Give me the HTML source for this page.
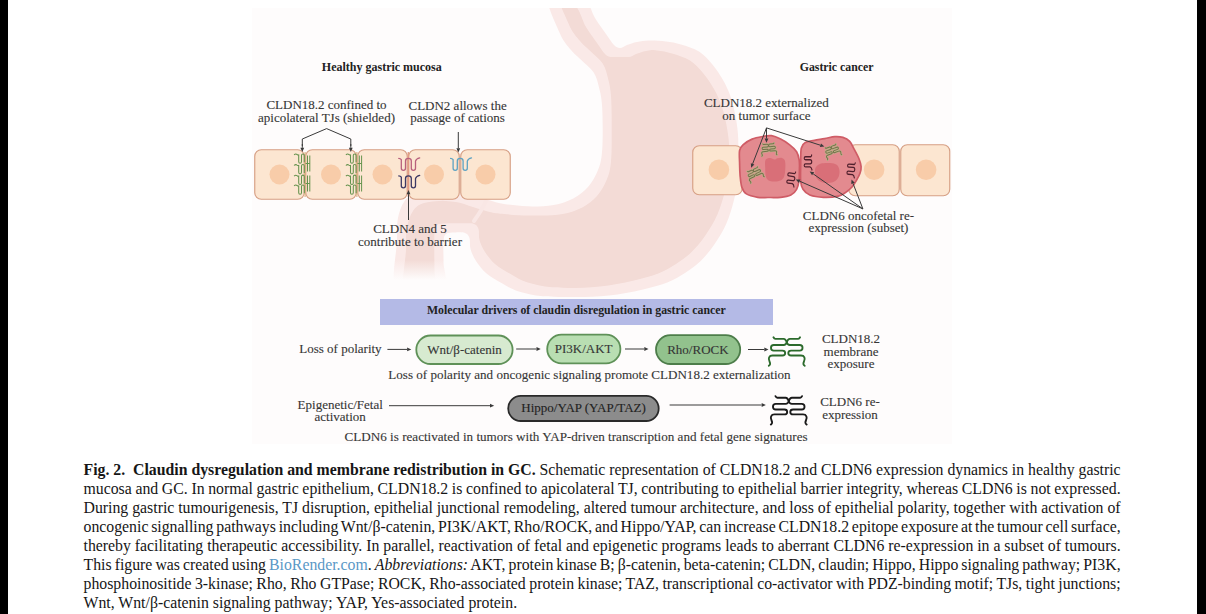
<!DOCTYPE html>
<html><head><meta charset="utf-8">
<style>
html,body{margin:0;padding:0;background:#fff;}
body{width:1206px;height:614px;position:relative;overflow:hidden;font-family:"Liberation Serif", serif;}
.bar{position:absolute;top:0;height:614px;background:#000;}
svg{position:absolute;left:0;top:0;}
svg text{font-family:"Liberation Serif", serif;}
.cl{position:absolute;left:83.5px;font-size:15.8px;line-height:19px;color:#161616;white-space:nowrap;}
.lk{color:#5a98c6;}
</style></head><body>
<div class="bar" style="left:0;width:8px"></div>
<div class="bar" style="left:1197px;width:9px"></div>
<svg width="1206" height="614" viewBox="0 0 1206 614">
<rect x="252" y="8" width="700" height="436" fill="#fefcfc"/>
<defs><filter id="er" x="-5%" y="-5%" width="110%" height="110%"><feMorphology operator="erode" radius="9"/></filter><clipPath id="figclip"><rect x="252" y="8" width="700" height="436"/></clipPath><linearGradient id="fadeg" x1="0" y1="0" x2="0" y2="1"><stop offset="0" stop-color="#fefcfc" stop-opacity="0"/><stop offset="1" stop-color="#fefcfc" stop-opacity="1"/></linearGradient></defs>
<g clip-path="url(#figclip)"><path d="M547.7,-6.0 C551.2,-12.5 573.1,-10.0 581.0,-6.0 C588.9,-2.0 590.8,11.3 595.0,18.0 C599.2,24.7 602.8,29.5 606.0,34.0 C609.2,38.5 611.7,42.7 614.0,45.0 C616.3,47.3 617.8,48.0 620.0,48.0 C622.2,48.0 624.2,46.0 627.0,45.0 C629.8,44.0 633.3,42.7 637.0,42.0 C640.7,41.3 644.2,40.7 649.0,40.6 C653.8,40.5 660.7,40.9 666.0,41.5 C671.3,42.1 675.5,42.8 681.0,44.5 C686.5,46.2 693.8,48.2 699.0,51.5 C704.2,54.8 708.0,59.2 712.0,64.0 C716.0,68.8 720.0,74.8 723.0,80.0 C726.0,85.2 728.2,90.2 730.0,95.0 C731.8,99.8 732.9,104.5 734.0,109.0 C735.1,113.5 735.8,117.7 736.5,122.0 C737.2,126.3 737.7,130.3 738.0,135.0 C738.3,139.7 738.4,143.2 738.5,150.0 C738.6,156.8 739.2,167.7 738.5,176.0 C737.8,184.3 736.0,192.1 734.0,200.0 C732.0,207.9 729.7,215.9 726.4,223.4 C723.1,230.9 718.3,238.7 714.0,245.0 C709.7,251.3 705.2,256.5 700.4,261.2 C695.6,265.9 690.5,269.4 685.0,273.0 C679.5,276.6 674.5,279.7 667.3,282.5 C660.1,285.3 651.7,287.5 642.0,289.7 C632.3,291.9 620.0,294.3 609.0,295.5 C598.0,296.7 587.0,296.9 576.0,297.0 C565.0,297.1 552.7,297.2 543.0,296.3 C533.3,295.4 524.9,293.5 518.0,291.3 C511.1,289.1 506.8,286.1 501.5,283.0 C496.2,279.9 490.2,276.7 486.0,273.0 C481.8,269.3 478.6,265.0 476.0,261.0 C473.4,257.0 471.6,252.8 470.5,249.0 C469.4,245.2 470.4,240.7 469.5,238.0 C468.6,235.3 467.4,233.9 465.0,233.0 C462.6,232.1 458.2,232.3 455.0,232.5 C451.8,232.7 447.9,232.4 446.0,234.0 C444.1,235.6 443.9,237.3 443.5,242.0 C443.1,246.7 443.5,253.0 443.5,262.0 C443.5,271.0 451.2,290.3 443.5,296.0 C435.8,301.7 404.8,305.3 397.0,296.0 C389.2,286.7 396.8,253.0 397.0,240.0 C397.2,227.0 396.8,224.3 398.0,218.0 C399.2,211.7 401.2,206.0 404.0,202.0 C406.8,198.0 409.0,195.8 415.0,194.0 C421.0,192.2 431.7,191.7 440.0,191.5 C448.3,191.3 458.0,191.9 465.0,193.0 C472.0,194.1 476.2,196.3 482.0,198.0 C487.8,199.7 494.8,202.1 500.0,203.3 C505.2,204.5 507.6,204.5 513.0,205.0 C518.4,205.5 525.8,206.5 532.6,206.5 C539.4,206.5 546.9,206.3 553.7,205.0 C560.5,203.7 567.6,201.4 573.3,198.4 C579.0,195.4 583.9,191.6 588.0,187.0 C592.1,182.4 595.4,176.1 597.7,170.7 C600.0,165.3 601.0,161.2 601.8,154.4 C602.6,147.6 602.7,138.2 602.7,130.0 C602.7,121.8 602.5,111.8 602.0,105.0 C601.5,98.2 600.8,94.4 599.4,89.0 C598.0,83.6 596.8,77.5 593.7,72.6 C590.6,67.7 584.5,63.3 580.7,59.5 C576.9,55.7 574.5,54.4 571.0,50.0 C567.5,45.6 563.6,42.3 559.7,33.0 C555.8,23.7 544.2,0.5 547.7,-6.0 Z" fill="#fae9e7"/><path d="M547.7,-6.0 C551.2,-12.5 573.1,-10.0 581.0,-6.0 C588.9,-2.0 590.8,11.3 595.0,18.0 C599.2,24.7 602.8,29.5 606.0,34.0 C609.2,38.5 611.7,42.7 614.0,45.0 C616.3,47.3 617.8,48.0 620.0,48.0 C622.2,48.0 624.2,46.0 627.0,45.0 C629.8,44.0 633.3,42.7 637.0,42.0 C640.7,41.3 644.2,40.7 649.0,40.6 C653.8,40.5 660.7,40.9 666.0,41.5 C671.3,42.1 675.5,42.8 681.0,44.5 C686.5,46.2 693.8,48.2 699.0,51.5 C704.2,54.8 708.0,59.2 712.0,64.0 C716.0,68.8 720.0,74.8 723.0,80.0 C726.0,85.2 728.2,90.2 730.0,95.0 C731.8,99.8 732.9,104.5 734.0,109.0 C735.1,113.5 735.8,117.7 736.5,122.0 C737.2,126.3 737.7,130.3 738.0,135.0 C738.3,139.7 738.4,143.2 738.5,150.0 C738.6,156.8 739.2,167.7 738.5,176.0 C737.8,184.3 736.0,192.1 734.0,200.0 C732.0,207.9 729.7,215.9 726.4,223.4 C723.1,230.9 718.3,238.7 714.0,245.0 C709.7,251.3 705.2,256.5 700.4,261.2 C695.6,265.9 690.5,269.4 685.0,273.0 C679.5,276.6 674.5,279.7 667.3,282.5 C660.1,285.3 651.7,287.5 642.0,289.7 C632.3,291.9 620.0,294.3 609.0,295.5 C598.0,296.7 587.0,296.9 576.0,297.0 C565.0,297.1 552.7,297.2 543.0,296.3 C533.3,295.4 524.9,293.5 518.0,291.3 C511.1,289.1 506.8,286.1 501.5,283.0 C496.2,279.9 490.2,276.7 486.0,273.0 C481.8,269.3 478.6,265.0 476.0,261.0 C473.4,257.0 471.6,252.8 470.5,249.0 C469.4,245.2 470.4,240.7 469.5,238.0 C468.6,235.3 467.4,233.9 465.0,233.0 C462.6,232.1 458.2,232.3 455.0,232.5 C451.8,232.7 447.9,232.4 446.0,234.0 C444.1,235.6 443.9,237.3 443.5,242.0 C443.1,246.7 443.5,253.0 443.5,262.0 C443.5,271.0 451.2,290.3 443.5,296.0 C435.8,301.7 404.8,305.3 397.0,296.0 C389.2,286.7 396.8,253.0 397.0,240.0 C397.2,227.0 396.8,224.3 398.0,218.0 C399.2,211.7 401.2,206.0 404.0,202.0 C406.8,198.0 409.0,195.8 415.0,194.0 C421.0,192.2 431.7,191.7 440.0,191.5 C448.3,191.3 458.0,191.9 465.0,193.0 C472.0,194.1 476.2,196.3 482.0,198.0 C487.8,199.7 494.8,202.1 500.0,203.3 C505.2,204.5 507.6,204.5 513.0,205.0 C518.4,205.5 525.8,206.5 532.6,206.5 C539.4,206.5 546.9,206.3 553.7,205.0 C560.5,203.7 567.6,201.4 573.3,198.4 C579.0,195.4 583.9,191.6 588.0,187.0 C592.1,182.4 595.4,176.1 597.7,170.7 C600.0,165.3 601.0,161.2 601.8,154.4 C602.6,147.6 602.7,138.2 602.7,130.0 C602.7,121.8 602.5,111.8 602.0,105.0 C601.5,98.2 600.8,94.4 599.4,89.0 C598.0,83.6 596.8,77.5 593.7,72.6 C590.6,67.7 584.5,63.3 580.7,59.5 C576.9,55.7 574.5,54.4 571.0,50.0 C567.5,45.6 563.6,42.3 559.7,33.0 C555.8,23.7 544.2,0.5 547.7,-6.0 Z" fill="#f3dbd6" filter="url(#er)"/><path d="M486,201 C483,208 479,214 474,221" fill="none" stroke="#f9e7e5" stroke-width="4" stroke-linecap="round"/><rect x="390" y="260" width="58" height="20" fill="url(#fadeg)"/><rect x="390" y="280" width="58" height="20" fill="#fefcfc"/></g>
<rect x="254.75" y="149.75" width="49.5" height="49.5" rx="6.5" fill="#fce6d1" stroke="#d69f84" stroke-width="1.15"/>
<circle cx="279.5" cy="174.5" r="10" fill="#f8cca9"/>
<rect x="305.75" y="149.75" width="50.5" height="49.5" rx="6.5" fill="#fce6d1" stroke="#d69f84" stroke-width="1.15"/>
<circle cx="331.0" cy="174.5" r="10" fill="#f8cca9"/>
<rect x="357.75" y="149.75" width="49.5" height="49.5" rx="6.5" fill="#fce6d1" stroke="#d69f84" stroke-width="1.15"/>
<circle cx="382.5" cy="174.5" r="10" fill="#f8cca9"/>
<rect x="408.75" y="149.75" width="50.5" height="49.5" rx="6.5" fill="#fce6d1" stroke="#d69f84" stroke-width="1.15"/>
<circle cx="434.0" cy="174.5" r="10" fill="#f8cca9"/>
<rect x="460.75" y="149.75" width="49.5" height="49.5" rx="6.5" fill="#fce6d1" stroke="#d69f84" stroke-width="1.15"/>
<circle cx="485.5" cy="174.5" r="10" fill="#f8cca9"/>
<rect x="692.75" y="145.75" width="49.5" height="49.0" rx="6.5" fill="#fce6d1" stroke="#d69f84" stroke-width="1.15"/>
<circle cx="718.9" cy="169.7" r="10.3" fill="#f8cca9"/>
<rect x="848.75" y="144.75" width="50.5" height="51.0" rx="6.5" fill="#fce6d1" stroke="#d69f84" stroke-width="1.15"/>
<circle cx="874.1" cy="169.8" r="10.3" fill="#f8cca9"/>
<rect x="900.75" y="144.75" width="49.0" height="51.0" rx="6.5" fill="#fce6d1" stroke="#d69f84" stroke-width="1.15"/>
<circle cx="926.1" cy="169.8" r="10.3" fill="#f8cca9"/>
<path d="M739.6,150.5 C740.2,147.5 740.9,146.7 743.0,144.8 C745.1,142.9 748.7,140.5 752.1,139.1 C755.5,137.7 760.3,136.9 763.5,136.3 C766.7,135.7 768.6,135.2 771.5,135.7 C774.4,136.2 777.6,137.6 780.6,139.1 C783.6,140.6 787.0,142.7 789.7,144.8 C792.4,146.9 795.0,149.2 796.6,151.7 C798.2,154.2 798.7,156.9 799.2,160.0 C799.7,163.1 799.5,166.4 799.4,170.0 C799.3,173.6 799.4,178.1 798.9,181.3 C798.4,184.5 797.9,187.0 796.6,189.3 C795.3,191.6 793.6,193.7 790.9,195.0 C788.2,196.3 784.4,196.9 780.6,197.3 C776.8,197.7 771.8,197.5 768.0,197.5 C764.2,197.5 761.4,197.9 757.8,197.3 C754.2,196.7 749.1,195.6 746.4,193.9 C743.7,192.2 742.8,190.1 741.8,187.0 C740.8,183.9 740.5,179.6 740.1,175.6 C739.7,171.6 739.7,167.2 739.6,163.0 C739.5,158.8 739.0,153.5 739.6,150.5 Z" fill="#e38a8f" stroke="#cf5c66" stroke-width="1.7"/>
<path d="M801.3,148.2 C802.1,144.6 803.1,143.8 805.3,142.5 C807.5,141.2 811.2,141.0 814.4,140.3 C817.6,139.7 821.2,139.2 824.6,138.6 C828.0,138.0 831.9,136.8 834.9,136.6 C837.9,136.4 840.4,136.6 842.9,137.4 C845.4,138.2 847.8,139.4 849.7,141.4 C851.6,143.4 852.8,146.6 854.3,149.4 C855.8,152.2 857.8,155.7 858.9,158.5 C860.0,161.3 860.9,164.0 861.1,166.5 C861.3,169.0 860.8,171.0 860.0,173.3 C859.2,175.6 857.9,177.9 856.6,180.2 C855.3,182.5 853.9,184.9 852.0,187.0 C850.1,189.1 847.5,191.2 845.2,192.7 C842.9,194.2 841.9,195.3 838.3,196.1 C834.7,196.9 828.2,197.5 823.5,197.3 C818.8,197.1 813.2,196.3 809.8,195.0 C806.4,193.7 804.5,191.6 803.0,189.3 C801.5,187.0 801.1,185.5 800.7,181.3 C800.3,177.1 800.6,169.7 800.7,164.2 C800.8,158.7 800.5,151.8 801.3,148.2 Z" fill="#e38a8f" stroke="#cf5c66" stroke-width="1.7"/>
<path d="M765.5,160.0 C766.3,158.3 768.5,158.1 770.0,158.0 C771.5,157.9 773.2,159.5 774.5,159.5 C775.8,159.5 776.2,158.4 777.5,158.2 C778.8,157.9 780.8,157.5 782.0,158.0 C783.2,158.5 784.5,159.0 785.0,161.0 C785.5,163.0 785.5,167.2 785.2,170.0 C785.0,172.8 784.7,176.1 783.5,178.0 C782.3,179.9 780.2,180.8 778.0,181.3 C775.8,181.8 772.0,181.7 770.0,181.0 C768.0,180.3 766.8,179.2 766.0,177.0 C765.2,174.8 765.3,170.8 765.2,168.0 C765.1,165.2 764.7,161.7 765.5,160.0 Z" fill="#d96f78"/>
<path d="M816.0,167.0 C817.0,165.6 818.7,164.2 821.0,163.5 C823.3,162.8 827.3,162.8 830.0,163.0 C832.7,163.2 835.4,163.7 837.0,165.0 C838.6,166.3 839.3,168.8 839.5,171.0 C839.7,173.2 839.2,176.1 838.0,178.0 C836.8,179.9 834.7,181.8 832.0,182.5 C829.3,183.2 824.6,183.1 822.0,182.3 C819.4,181.6 817.7,179.7 816.5,178.0 C815.3,176.3 815.1,173.8 815.0,172.0 C814.9,170.2 815.0,168.4 816.0,167.0 Z" fill="#d96f78"/>
<line x1="305.1" y1="152" x2="305.1" y2="197" stroke="#d9b07c" stroke-width="1.1"/>
<path d="M294.1,154.89999999999998 q1.5,-1.6 3,-0.4 q1,0.6 1.6,0.4 v6.8 q0,1.6 1.4,1.6 q1.4,0 1.4,-1.6 v-6.2 q0,-1.6 1.4,-1.6 q1.4,0 1.4,1.6 v6.8" fill="none" stroke="#66934e" stroke-width="1.05"/>
<path d="M294.1,165.5 q1.5,-1.6 3,-0.4 q1,0.6 1.6,0.4 v6.8 q0,1.6 1.4,1.6 q1.4,0 1.4,-1.6 v-6.2 q0,-1.6 1.4,-1.6 q1.4,0 1.4,1.6 v6.8" fill="none" stroke="#66934e" stroke-width="1.05"/>
<path d="M294.1,176.1 q1.5,-1.6 3,-0.4 q1,0.6 1.6,0.4 v6.8 q0,1.6 1.4,1.6 q1.4,0 1.4,-1.6 v-6.2 q0,-1.6 1.4,-1.6 q1.4,0 1.4,1.6 v6.8" fill="none" stroke="#66934e" stroke-width="1.05"/>
<path d="M294.1,185.89999999999998 q1.5,-1.6 3,-0.4 q1,0.6 1.6,0.4 v6.8 q0,1.6 1.4,1.6 q1.4,0 1.4,-1.6 v-6.2 q0,-1.6 1.4,-1.6 q1.4,0 1.4,1.6 v6.8" fill="none" stroke="#66934e" stroke-width="1.05"/>
<path d="M307.5,155.5 v16.0 M309.8,155.5 v16.0 M305.6,163.5 h4.2" fill="none" stroke="#66934e" stroke-width="1.0"/>
<path d="M307.5,175.5 v16.0 M309.8,175.5 v16.0 M305.6,183.5 h4.2" fill="none" stroke="#66934e" stroke-width="1.0"/>
<line x1="356.9" y1="152" x2="356.9" y2="197" stroke="#d9b07c" stroke-width="1.1"/>
<path d="M345.9,154.89999999999998 q1.5,-1.6 3,-0.4 q1,0.6 1.6,0.4 v6.8 q0,1.6 1.4,1.6 q1.4,0 1.4,-1.6 v-6.2 q0,-1.6 1.4,-1.6 q1.4,0 1.4,1.6 v6.8" fill="none" stroke="#66934e" stroke-width="1.05"/>
<path d="M345.9,165.5 q1.5,-1.6 3,-0.4 q1,0.6 1.6,0.4 v6.8 q0,1.6 1.4,1.6 q1.4,0 1.4,-1.6 v-6.2 q0,-1.6 1.4,-1.6 q1.4,0 1.4,1.6 v6.8" fill="none" stroke="#66934e" stroke-width="1.05"/>
<path d="M345.9,176.1 q1.5,-1.6 3,-0.4 q1,0.6 1.6,0.4 v6.8 q0,1.6 1.4,1.6 q1.4,0 1.4,-1.6 v-6.2 q0,-1.6 1.4,-1.6 q1.4,0 1.4,1.6 v6.8" fill="none" stroke="#66934e" stroke-width="1.05"/>
<path d="M345.9,185.89999999999998 q1.5,-1.6 3,-0.4 q1,0.6 1.6,0.4 v6.8 q0,1.6 1.4,1.6 q1.4,0 1.4,-1.6 v-6.2 q0,-1.6 1.4,-1.6 q1.4,0 1.4,1.6 v6.8" fill="none" stroke="#66934e" stroke-width="1.05"/>
<path d="M359.29999999999995,155.5 v16.0 M361.59999999999997,155.5 v16.0 M357.4,163.5 h4.2" fill="none" stroke="#66934e" stroke-width="1.0"/>
<path d="M359.29999999999995,175.5 v16.0 M361.59999999999997,175.5 v16.0 M357.4,183.5 h4.2" fill="none" stroke="#66934e" stroke-width="1.0"/>
<line x1="408.3" y1="152" x2="408.3" y2="197" stroke="#e39a82" stroke-width="1.3"/>
<path d="M398.8,158.4 q1.6,0 2.5,1.3 v8.6 q0,2.1 2.1,2.1 q2.1,0 2.1,-2.1 v-7.4 q0,-2.6 2.9,-2.6 q2.9,0 2.9,2.6 v7.4 q0,2.1 2.1,2.1 q2.1,0 2.1,-2.1 v-7.2 q0.6,-2.4 4.2,-3.3" fill="none" stroke="#b8607c" stroke-width="1.3" stroke-linecap="round"/>
<path d="M398.8,175.9 q1.6,0 2.5,1.3 v8.6 q0,2.1 2.1,2.1 q2.1,0 2.1,-2.1 v-7.4 q0,-2.6 2.9,-2.6 q2.9,0 2.9,2.6 v7.4 q0,2.1 2.1,2.1 q2.1,0 2.1,-2.1 v-7.2 q0.6,-2.4 4.2,-3.3" fill="none" stroke="#3b3864" stroke-width="1.3" stroke-linecap="round"/>
<path d="M450.6,158.4 q1.6,0 2.5,1.3 v8.6 q0,2.1 2.1,2.1 q2.1,0 2.1,-2.1 v-7.4 q0,-2.6 2.9,-2.6 q2.9,0 2.9,2.6 v7.4 q0,2.1 2.1,2.1 q2.1,0 2.1,-2.1 v-7.2 q0.6,-2.4 4.2,-3.3" fill="none" stroke="#5ea2c2" stroke-width="1.3" stroke-linecap="round"/>
<g transform="translate(768.9,149.5) rotate(-5) scale(0.026) translate(-400,-315)" fill="none" stroke-linecap="round"><path d="M185,85 C195,105 200,110 215,110 L350,110 C385,110 395,150 400,165 C405,185 420,210 450,210 L610,210 C670,210 670,300 610,300 L470,300 C410,300 410,380 470,380 L630,380 C690,380 700,430 680,470 C665,500 665,530 690,545" stroke="#bcb088" stroke-width="85"/><path d="M615,85 C605,105 600,110 585,110 L450,110 C415,110 405,150 400,165 C395,185 380,210 350,210 L190,210 C130,210 130,300 190,300 L330,300 C390,300 390,380 330,380 L170,380 C110,380 100,430 120,470 C135,500 135,530 110,545" stroke="#bcb088" stroke-width="85"/><path d="M185,85 C195,105 200,110 215,110 L350,110 C385,110 395,150 400,165 C405,185 420,210 450,210 L610,210 C670,210 670,300 610,300 L470,300 C410,300 410,380 470,380 L630,380 C690,380 700,430 680,470 C665,500 665,530 690,545" stroke="#74704a" stroke-width="38"/><path d="M615,85 C605,105 600,110 585,110 L450,110 C415,110 405,150 400,165 C395,185 380,210 350,210 L190,210 C130,210 130,300 190,300 L330,300 C390,300 390,380 330,380 L170,380 C110,380 100,430 120,470 C135,500 135,530 110,545" stroke="#74704a" stroke-width="38"/></g>
<g transform="translate(755,174.5) rotate(-25) scale(0.026) translate(-400,-315)" fill="none" stroke-linecap="round"><path d="M185,85 C195,105 200,110 215,110 L350,110 C385,110 395,150 400,165 C405,185 420,210 450,210 L610,210 C670,210 670,300 610,300 L470,300 C410,300 410,380 470,380 L630,380 C690,380 700,430 680,470 C665,500 665,530 690,545" stroke="#bcb088" stroke-width="85"/><path d="M615,85 C605,105 600,110 585,110 L450,110 C415,110 405,150 400,165 C395,185 380,210 350,210 L190,210 C130,210 130,300 190,300 L330,300 C390,300 390,380 330,380 L170,380 C110,380 100,430 120,470 C135,500 135,530 110,545" stroke="#bcb088" stroke-width="85"/><path d="M185,85 C195,105 200,110 215,110 L350,110 C385,110 395,150 400,165 C405,185 420,210 450,210 L610,210 C670,210 670,300 610,300 L470,300 C410,300 410,380 470,380 L630,380 C690,380 700,430 680,470 C665,500 665,530 690,545" stroke="#74704a" stroke-width="38"/><path d="M615,85 C605,105 600,110 585,110 L450,110 C415,110 405,150 400,165 C395,185 380,210 350,210 L190,210 C130,210 130,300 190,300 L330,300 C390,300 390,380 330,380 L170,380 C110,380 100,430 120,470 C135,500 135,530 110,545" stroke="#74704a" stroke-width="38"/></g>
<g transform="translate(832.6,151.6) rotate(-20) scale(0.026) translate(-400,-315)" fill="none" stroke-linecap="round"><path d="M185,85 C195,105 200,110 215,110 L350,110 C385,110 395,150 400,165 C405,185 420,210 450,210 L610,210 C670,210 670,300 610,300 L470,300 C410,300 410,380 470,380 L630,380 C690,380 700,430 680,470 C665,500 665,530 690,545" stroke="#bcb088" stroke-width="85"/><path d="M615,85 C605,105 600,110 585,110 L450,110 C415,110 405,150 400,165 C395,185 380,210 350,210 L190,210 C130,210 130,300 190,300 L330,300 C390,300 390,380 330,380 L170,380 C110,380 100,430 120,470 C135,500 135,530 110,545" stroke="#bcb088" stroke-width="85"/><path d="M185,85 C195,105 200,110 215,110 L350,110 C385,110 395,150 400,165 C405,185 420,210 450,210 L610,210 C670,210 670,300 610,300 L470,300 C410,300 410,380 470,380 L630,380 C690,380 700,430 680,470 C665,500 665,530 690,545" stroke="#74704a" stroke-width="38"/><path d="M615,85 C605,105 600,110 585,110 L450,110 C415,110 405,150 400,165 C395,185 380,210 350,210 L190,210 C130,210 130,300 190,300 L330,300 C390,300 390,380 330,380 L170,380 C110,380 100,430 120,470 C135,500 135,530 110,545" stroke="#74704a" stroke-width="38"/></g>
<g transform="translate(791,179) rotate(98) scale(0.72,0.62) translate(-10.5,-6.5)" fill="none" stroke="#4f1f2c" stroke-width="1.8" stroke-linecap="round"><path d="M0,0.6 q1.6,0 2.5,1.3 v8.6 q0,2.1 2.1,2.1 q2.1,0 2.1,-2.1 v-7.4 q0,-2.6 2.9,-2.6 q2.9,0 2.9,2.6 v7.4 q0,2.1 2.1,2.1 q2.1,0 2.1,-2.1 v-7.2 q0.6,-2.4 4.2,-3.3"/></g>
<g transform="translate(808,162.5) rotate(90) scale(0.72,0.62) translate(-10.5,-6.5)" fill="none" stroke="#4f1f2c" stroke-width="1.8" stroke-linecap="round"><path d="M0,0.6 q1.6,0 2.5,1.3 v8.6 q0,2.1 2.1,2.1 q2.1,0 2.1,-2.1 v-7.4 q0,-2.6 2.9,-2.6 q2.9,0 2.9,2.6 v7.4 q0,2.1 2.1,2.1 q2.1,0 2.1,-2.1 v-7.2 q0.6,-2.4 4.2,-3.3"/></g>
<g transform="translate(851,170) rotate(95) scale(0.72,0.62) translate(-10.5,-6.5)" fill="none" stroke="#4f1f2c" stroke-width="1.8" stroke-linecap="round"><path d="M0,0.6 q1.6,0 2.5,1.3 v8.6 q0,2.1 2.1,2.1 q2.1,0 2.1,-2.1 v-7.4 q0,-2.6 2.9,-2.6 q2.9,0 2.9,2.6 v7.4 q0,2.1 2.1,2.1 q2.1,0 2.1,-2.1 v-7.2 q0.6,-2.4 4.2,-3.3"/></g>
<path d="M302.3,146 L302.3,139 L326.6,128.6 L350.8,139 L350.8,146" fill="none" stroke="#3a3a3a" stroke-width="1"/>
<line x1="302.3" y1="144" x2="302.30" y2="147.80" stroke="#3a3a3a" stroke-width="1.0"/>
<path d="M302.30,152.00 L300.40,147.80 L304.20,147.80 Z" fill="#3a3a3a"/>
<line x1="350.8" y1="144" x2="350.80" y2="147.80" stroke="#3a3a3a" stroke-width="1.0"/>
<path d="M350.80,152.00 L348.90,147.80 L352.70,147.80 Z" fill="#3a3a3a"/>
<line x1="458.3" y1="132" x2="458.30" y2="148.30" stroke="#3a3a3a" stroke-width="1.0"/>
<path d="M458.30,152.50 L456.40,148.30 L460.20,148.30 Z" fill="#3a3a3a"/>
<line x1="408.5" y1="220" x2="408.50" y2="194.20" stroke="#3a3a3a" stroke-width="1.0"/>
<path d="M408.50,190.00 L410.40,194.20 L406.60,194.20 Z" fill="#3a3a3a"/>
<line x1="766.5" y1="127.9" x2="766.50" y2="138.60" stroke="#3a3a3a" stroke-width="1.0"/>
<path d="M766.50,142.80 L764.60,138.60 L768.40,138.60 Z" fill="#3a3a3a"/>
<line x1="766.5" y1="127.9" x2="752.61" y2="163.88" stroke="#3a3a3a" stroke-width="1.0"/>
<path d="M751.10,167.80 L750.84,163.20 L754.38,164.57 Z" fill="#3a3a3a"/>
<line x1="766.5" y1="127.9" x2="820.40" y2="145.22" stroke="#3a3a3a" stroke-width="1.0"/>
<path d="M824.40,146.50 L819.82,147.02 L820.98,143.41 Z" fill="#3a3a3a"/>
<line x1="862.9" y1="208.9" x2="799.65" y2="181.19" stroke="#3a3a3a" stroke-width="1.0"/>
<path d="M795.80,179.50 L800.41,179.45 L798.88,182.93 Z" fill="#3a3a3a"/>
<line x1="862.9" y1="208.9" x2="813.13" y2="173.82" stroke="#3a3a3a" stroke-width="1.0"/>
<path d="M809.70,171.40 L814.23,172.27 L812.04,175.37 Z" fill="#3a3a3a"/>
<line x1="862.9" y1="208.9" x2="853.02" y2="183.42" stroke="#3a3a3a" stroke-width="1.0"/>
<path d="M851.50,179.50 L854.79,182.73 L851.25,184.10 Z" fill="#3a3a3a"/>
<text x="381.8" y="71.1" font-size="12" text-anchor="middle" font-weight="bold" fill="#222" stroke="#222" stroke-width="0.0" >Healthy gastric mucosa</text>
<text x="836.6" y="70.7" font-size="11.8" text-anchor="middle" font-weight="bold" fill="#222" stroke="#222" stroke-width="0.0" >Gastric cancer</text>
<text x="326.5" y="109.2" font-size="13" text-anchor="middle" font-weight="normal" fill="#363636" stroke="#363636" stroke-width="0.12" >CLDN18.2 confined to</text>
<text x="326.5" y="121.9" font-size="13" text-anchor="middle" font-weight="normal" fill="#363636" stroke="#363636" stroke-width="0.12" >apicolateral TJs (shielded)</text>
<text x="457.6" y="109.6" font-size="13" text-anchor="middle" font-weight="normal" fill="#363636" stroke="#363636" stroke-width="0.12" >CLDN2 allows the</text>
<text x="457.6" y="122.3" font-size="13" text-anchor="middle" font-weight="normal" fill="#363636" stroke="#363636" stroke-width="0.12" >passage of cations</text>
<text x="766.4" y="107.2" font-size="13" text-anchor="middle" font-weight="normal" fill="#363636" stroke="#363636" stroke-width="0.12" >CLDN18.2 externalized</text>
<text x="766.4" y="120.0" font-size="13" text-anchor="middle" font-weight="normal" fill="#363636" stroke="#363636" stroke-width="0.12" >on tumor surface</text>
<text x="410" y="232.8" font-size="13" text-anchor="middle" font-weight="normal" fill="#363636" stroke="#363636" stroke-width="0.12" >CLDN4 and 5</text>
<text x="410" y="245.5" font-size="13" text-anchor="middle" font-weight="normal" fill="#363636" stroke="#363636" stroke-width="0.12" >contribute to barrier</text>
<text x="858.4" y="219.6" font-size="13" text-anchor="middle" font-weight="normal" fill="#363636" stroke="#363636" stroke-width="0.12" >CLDN6 oncofetal re-</text>
<text x="858.4" y="232.4" font-size="13" text-anchor="middle" font-weight="normal" fill="#363636" stroke="#363636" stroke-width="0.12" >expression (subset)</text>
<rect x="380" y="299" width="393" height="26" fill="#b4bae6"/>
<text x="576.3" y="314.4" font-size="11.8" text-anchor="middle" font-weight="bold" fill="#222" stroke="#222" stroke-width="0.0" >Molecular drivers of claudin disregulation in gastric cancer</text>
<text x="299.3" y="352.9" font-size="13" text-anchor="start" font-weight="normal" fill="#363636" stroke="#363636" stroke-width="0.12" >Loss of polarity</text>
<line x1="387.4" y1="349.4" x2="407.10" y2="349.40" stroke="#3a3a3a" stroke-width="1.0"/>
<path d="M411.30,349.40 L407.10,351.30 L407.10,347.50 Z" fill="#3a3a3a"/>
<rect x="416.29999999999995" y="335.5" width="96.30000000000003" height="28.499999999999954" rx="14.249999999999977" fill="#d7ead0" stroke="#5f9158" stroke-width="1.8"/>
<text x="464.6" y="354.3" font-size="13" text-anchor="middle" font-weight="normal" fill="#363636" stroke="#363636" stroke-width="0.12" >Wnt/β-catenin</text>
<line x1="516.2" y1="349" x2="536.50" y2="349.00" stroke="#3a3a3a" stroke-width="1.0"/>
<path d="M540.70,349.00 L536.50,350.90 L536.50,347.10 Z" fill="#3a3a3a"/>
<rect x="547.1999999999999" y="334.7" width="73.2" height="28.7" rx="14.35" fill="#b9deb2" stroke="#5f9158" stroke-width="1.8"/>
<text x="583.6" y="353.3" font-size="13" text-anchor="middle" font-weight="normal" fill="#363636" stroke="#363636" stroke-width="0.12" >PI3K/AKT</text>
<line x1="625" y1="349" x2="644.30" y2="349.00" stroke="#3a3a3a" stroke-width="1.0"/>
<path d="M648.50,349.00 L644.30,350.90 L644.30,347.10 Z" fill="#3a3a3a"/>
<rect x="656.0" y="335.09999999999997" width="84.2" height="28.899999999999988" rx="14.449999999999994" fill="#92c28d" stroke="#4d7d4a" stroke-width="1.8"/>
<text x="697.9" y="353.5" font-size="13" text-anchor="middle" font-weight="normal" fill="#363636" stroke="#363636" stroke-width="0.12" >Rho/ROCK</text>
<line x1="748" y1="349.5" x2="764.30" y2="349.50" stroke="#3a3a3a" stroke-width="1.0"/>
<path d="M768.50,349.50 L764.30,351.40 L764.30,347.60 Z" fill="#3a3a3a"/>
<text x="388.3" y="379.4" font-size="13.07" text-anchor="start" font-weight="normal" fill="#363636" stroke="#363636" stroke-width="0.12" >Loss of polarity and oncogenic signaling promote CLDN18.2 externalization</text>
<text x="851" y="343.2" font-size="13" text-anchor="middle" font-weight="normal" fill="#363636" stroke="#363636" stroke-width="0.12" >CLDN18.2</text>
<text x="851" y="356.0" font-size="13" text-anchor="middle" font-weight="normal" fill="#363636" stroke="#363636" stroke-width="0.12" >membrane</text>
<text x="851" y="368.0" font-size="13" text-anchor="middle" font-weight="normal" fill="#363636" stroke="#363636" stroke-width="0.12" >exposure</text>
<g transform="translate(762,332) scale(0.06188118811881188)" fill="none" stroke="#2c6a2c" stroke-width="30" stroke-linecap="round"><path d="M185,85 C195,105 200,110 215,110 L350,110 C385,110 395,150 400,165 C405,185 420,210 450,210 L610,210 C670,210 670,300 610,300 L470,300 C410,300 410,380 470,380 L630,380 C690,380 700,430 680,470 C665,500 665,530 690,545"/><path d="M615,85 C605,105 600,110 585,110 L450,110 C415,110 405,150 400,165 C395,185 380,210 350,210 L190,210 C130,210 130,300 190,300 L330,300 C390,300 390,380 330,380 L170,380 C110,380 100,430 120,470 C135,500 135,530 110,545"/></g>
<text x="340.2" y="408.8" font-size="13" text-anchor="middle" font-weight="normal" fill="#363636" stroke="#363636" stroke-width="0.12" >Epigenetic/Fetal</text>
<text x="340.2" y="421.4" font-size="13" text-anchor="middle" font-weight="normal" fill="#363636" stroke="#363636" stroke-width="0.12" >activation</text>
<line x1="389" y1="405.7" x2="490.00" y2="405.70" stroke="#3a3a3a" stroke-width="1.0"/>
<path d="M494.20,405.70 L490.00,407.60 L490.00,403.80 Z" fill="#3a3a3a"/>
<rect x="508.2" y="395.9" width="150.5" height="25.099999999999977" rx="12.549999999999988" fill="#8c8c8c" stroke="#2a2a2a" stroke-width="1.8"/>
<text x="583.6" y="411.6" font-size="13" text-anchor="middle" font-weight="normal" fill="#222" stroke="#222" stroke-width="0.12" >Hippo/YAP (YAP/TAZ)</text>
<line x1="669.6" y1="405" x2="761.70" y2="405.00" stroke="#3a3a3a" stroke-width="1.0"/>
<path d="M765.90,405.00 L761.70,406.90 L761.70,403.10 Z" fill="#3a3a3a"/>
<g transform="translate(764,390.9) scale(0.06188118811881188)" fill="none" stroke="#1a1a1a" stroke-width="30" stroke-linecap="round"><path d="M185,85 C195,105 200,110 215,110 L350,110 C385,110 395,150 400,165 C405,185 420,210 450,210 L610,210 C670,210 670,300 610,300 L470,300 C410,300 410,380 470,380 L630,380 C690,380 700,430 680,470 C665,500 665,530 690,545"/><path d="M615,85 C605,105 600,110 585,110 L450,110 C415,110 405,150 400,165 C395,185 380,210 350,210 L190,210 C130,210 130,300 190,300 L330,300 C390,300 390,380 330,380 L170,380 C110,380 100,430 120,470 C135,500 135,530 110,545"/></g>
<text x="850" y="405.9" font-size="13" text-anchor="middle" font-weight="normal" fill="#363636" stroke="#363636" stroke-width="0.12" >CLDN6 re-</text>
<text x="850" y="418.8" font-size="13" text-anchor="middle" font-weight="normal" fill="#363636" stroke="#363636" stroke-width="0.12" >expression</text>
<text x="344.6" y="440.6" font-size="13.12" text-anchor="start" font-weight="normal" fill="#363636" stroke="#363636" stroke-width="0.12" >CLDN6 is reactivated in tumors with YAP-driven transcription and fetal gene signatures</text>
</svg>
<div class="cl" style="top:460.47px;word-spacing:-0.022px"><b>Fig. 2.&nbsp; Claudin dysregulation and membrane redistribution in GC.</b> Schematic representation of CLDN18.2 and CLDN6 expression dynamics in healthy gastric</div><div class="cl" style="top:479.37px;word-spacing:-0.298px">mucosa and GC. In normal gastric epithelium, CLDN18.2 is confined to apicolateral TJ, contributing to epithelial barrier integrity, whereas CLDN6 is not expressed.</div><div class="cl" style="top:498.27px;word-spacing:-0.021px">During gastric tumourigenesis, TJ disruption, epithelial junctional remodeling, altered tumour architecture, and loss of epithelial polarity, together with activation of</div><div class="cl" style="top:517.17px;word-spacing:-1.194px">oncogenic signalling pathways including Wnt/β-catenin, PI3K/AKT, Rho/ROCK, and Hippo/YAP, can increase CLDN18.2 epitope exposure at the tumour cell surface,</div><div class="cl" style="top:536.17px;word-spacing:-0.028px">thereby facilitating therapeutic accessibility. In parallel, reactivation of fetal and epigenetic programs leads to aberrant CLDN6 re-expression in a subset of tumours.</div><div class="cl" style="top:555.07px;word-spacing:-0.887px">This figure was created using <span class="lk">BioRender.com</span>. <i>Abbreviations:</i> AKT, protein kinase B; β-catenin, beta-catenin; CLDN, claudin; Hippo, Hippo signaling pathway; PI3K,</div><div class="cl" style="top:573.97px;word-spacing:-0.440px">phosphoinositide 3-kinase; Rho, Rho GTPase; ROCK, Rho-associated protein kinase; TAZ, transcriptional co-activator with PDZ-binding motif; TJs, tight junctions;</div><div class="cl" style="top:592.87px;word-spacing:0.000px">Wnt, Wnt/β-catenin signaling pathway; YAP, Yes-associated protein.</div>
</body></html>
